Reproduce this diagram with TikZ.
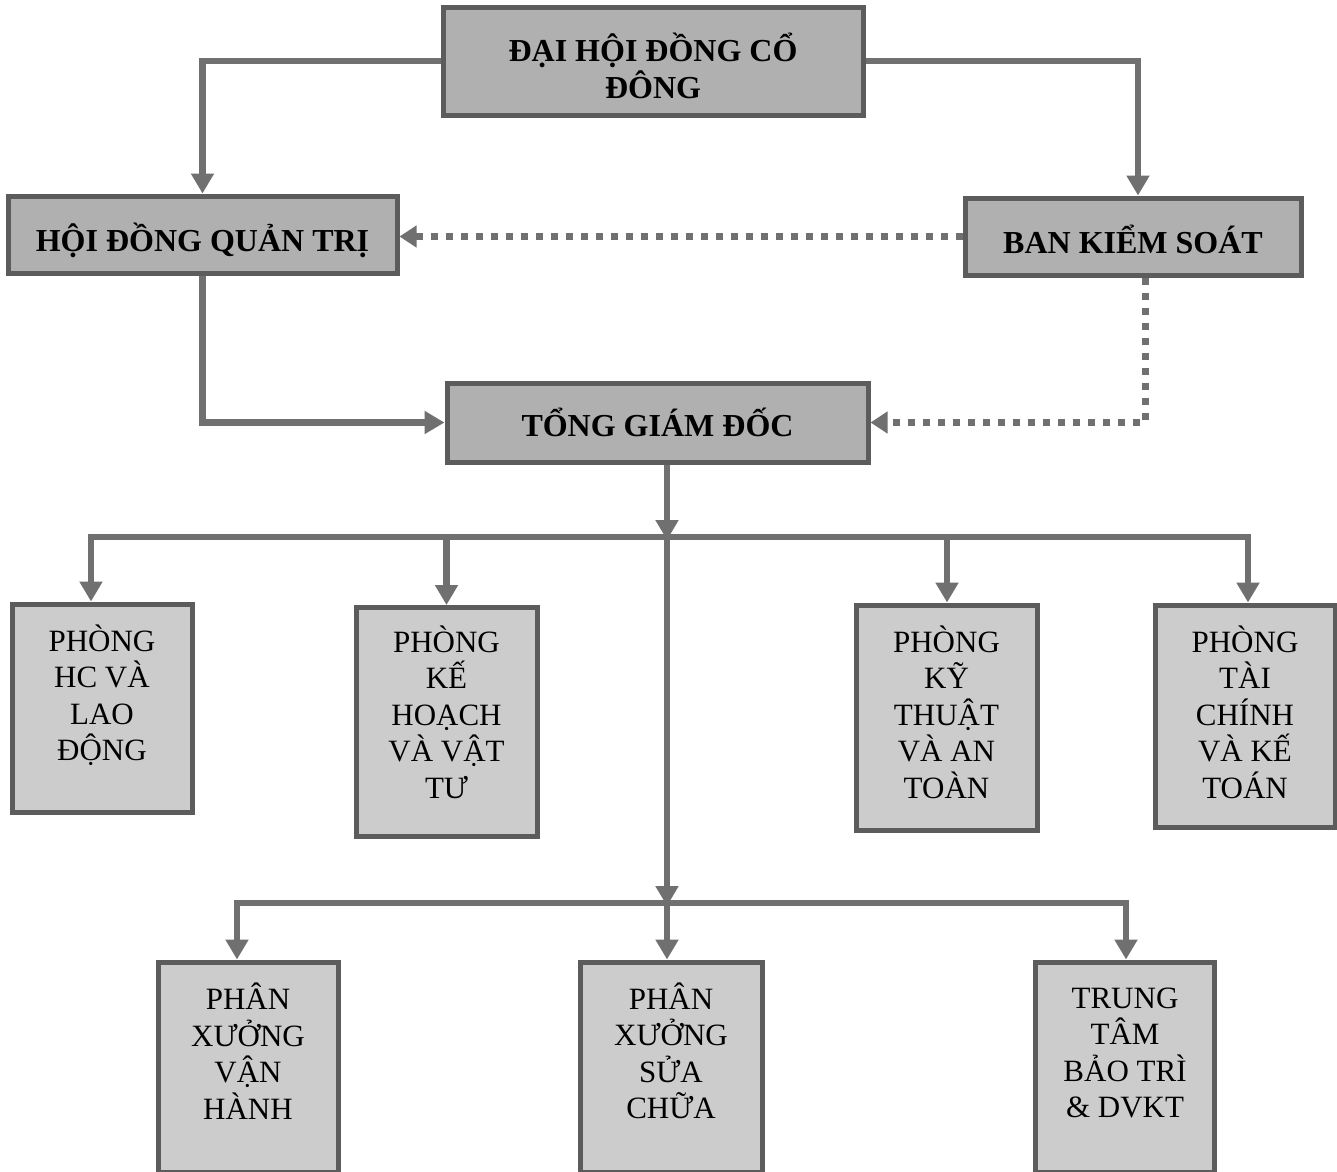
\documentclass[tikz,border=0pt]{standalone}
\usepackage{fontspec}
\setmainfont{Liberation Serif}
\usetikzlibrary{arrows.meta}
\definecolor{linegray}{RGB}{112,112,112}
\definecolor{bordergray}{RGB}{92,92,92}
\definecolor{topfill}{RGB}{176,176,176}
\definecolor{lowfill}{RGB}{204,204,204}
\begin{document}
\begin{tikzpicture}[x=1pt,y=-1pt,
  topbox/.style={rectangle, draw=bordergray, line width=5pt, fill=topfill, inner sep=0pt},
  lowbox/.style={rectangle, draw=bordergray, line width=5pt, fill=lowfill, inner sep=0pt},
  toptext/.style={font=\fontsize{32}{37}\selectfont\bfseries, align=center, inner sep=0pt},
  lowtext/.style={font=\fontsize{31}{36.5}\selectfont, align=center, inner sep=0pt},
  wire/.style={draw=linegray, line width=6.5pt},
  conn/.style={wire, -{Triangle[width=22pt,length=20pt]}},
  dotconn/.style={draw=linegray, line width=7pt, dash pattern=on 7pt off 8pt, -{Triangle[width=21pt,length=17pt]}}
]
\useasboundingbox (0,0) rectangle (1337,1171);
\fill[white] (0,0) rectangle (1337,1171);

% boxes
\node[topbox, minimum width=420pt, minimum height=108pt] (dh) at (653,61) {};
\node[topbox, minimum width=389pt, minimum height=77pt] (hdqt) at (202.5,234.5) {};
\node[topbox, minimum width=336pt, minimum height=77pt] (bks) at (1133,236.5) {};
\node[topbox, minimum width=421pt, minimum height=79pt] (tgd) at (657.5,422.5) {};

\node[lowbox, minimum width=180pt, minimum height=208pt] (hc) at (102,708) {};
\node[lowbox, minimum width=181pt, minimum height=229pt] (kh) at (446.5,722) {};
\node[lowbox, minimum width=181pt, minimum height=225pt] (kt) at (946.5,717.5) {};
\node[lowbox, minimum width=180pt, minimum height=222pt] (tc) at (1245,716) {};

\node[lowbox, minimum width=180pt, minimum height=210pt] (vh) at (248,1067) {};
\node[lowbox, minimum width=182pt, minimum height=210pt] (sc) at (671,1067) {};
\node[lowbox, minimum width=179pt, minimum height=210pt] (tt) at (1125,1067) {};

% texts
\node[toptext] (dhT) at (653,66) {ĐẠI HỘI ĐỒNG CỔ\\ĐÔNG};
\node[toptext, anchor=base] (hdqtT) at (202.5,251) {HỘI ĐỒNG QUẢN TRỊ};
\node[toptext, anchor=base] (bksT) at (1133,253) {BAN KIỂM SOÁT};
\node[toptext, anchor=base] (tgdT) at (657.5,436) {TỔNG GIÁM ĐỐC};

\node[lowtext] (hcT) at (102,695) {PHÒNG\\HC VÀ\\LAO\\ĐỘNG};
\node[lowtext] (khT) at (446.5,712) {PHÒNG\\KẾ\\HOẠCH\\VÀ VẬT\\TƯ};
\node[lowtext] (ktT) at (946.5,712) {PHÒNG\\KỸ\\THUẬT\\VÀ AN\\TOÀN};
\node[lowtext] (tcT) at (1245,712) {PHÒNG\\TÀI\\CHÍNH\\VÀ KẾ\\TOÁN};
\node[lowtext] (vhT) at (248,1051) {PHÂN\\XƯỞNG\\VẬN\\HÀNH};
\node[lowtext] (scT) at (671,1051) {PHÂN\\XƯỞNG\\SỬA\\CHỮA};
\node[lowtext] (ttT) at (1125,1053) {TRUNG\\TÂM\\BẢO TRÌ\\\& DVKT};

% junction points
\coordinate (b1) at (667,537);
\coordinate (b2) at (667,903);
\coordinate (bksdrop) at (1145,0);
\coordinate (bkstop) at (1138,0);

% top connectors
\draw[conn] (dh.west) -| (hdqt.north);
\draw[conn] (dh.east) -| (bks.north -| bkstop);
\draw[dotconn] (bks.west) -- (bks.west -| hdqt.east);
\draw[dotconn] (bks.south -| bksdrop) |- (tgd.east);
\draw[conn] (hdqt.south) |- (tgd.west);
\draw[conn] (tgd.south -| b1) -- ([yshift=-3pt]b1);

% first bar
\draw[wire, line cap=rect] (91,537) -- (1248,537);
\draw[conn] (91,537) -- (hc.north -| 91,0);
\draw[conn] (b1 -| kh.north) -- (kh.north);
\draw[conn] (947,537) -- (kt.north -| 947,0);
\draw[conn] (1248,537) -- (tc.north -| 1248,0);

% central line and second bar
\draw[conn] (b1) -- ([yshift=-3pt]b2);
\draw[wire, line cap=rect] (237,903) -- (1126,903);
\draw[conn] (237,903) -- (vh.north -| 237,0);
\draw[conn] (b2) -- (sc.north -| b2);
\draw[conn] (1126,903) -- (tt.north -| 1126,0);
\end{tikzpicture}
\end{document}
